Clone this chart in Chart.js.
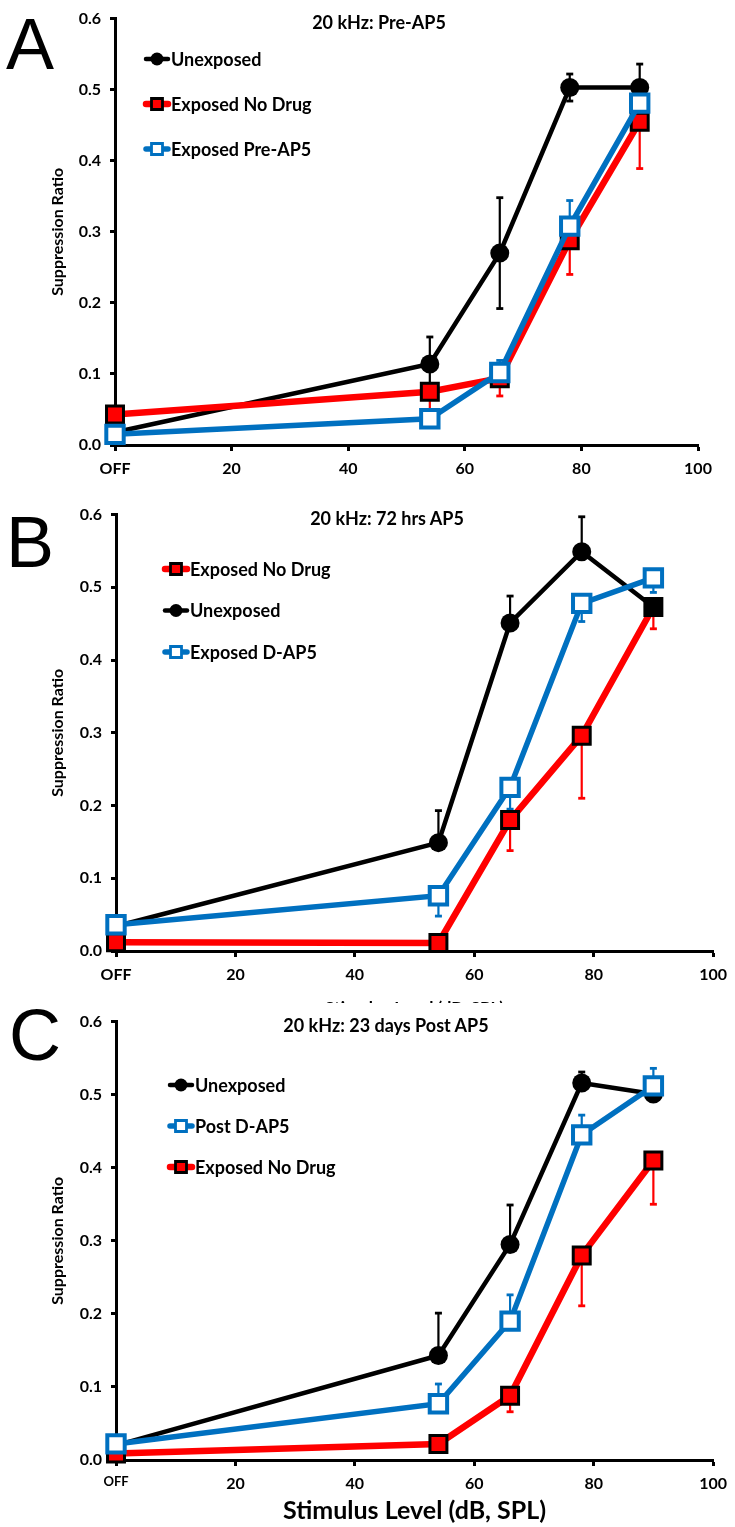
<!DOCTYPE html>
<html>
<head>
<meta charset="utf-8">
<script src="https://cdn.jsdelivr.net/npm/chart.js@4.4.1/dist/chart.umd.min.js"></script>
<style>
  body { margin: 0; width: 735px; height: 1527px; position: relative; background: #fff; overflow: hidden; font-family: Lato, sans-serif; }
  .panel { position: absolute; left: 0; width: 735px; background: #fff; }
  .letter { position: absolute; font-family: 'Liberation Sans', Arial, sans-serif; font-size: 72px; line-height: 1; color: #000; z-index: 5; }
  .title { position: absolute; transform: translate(-50%, -50%); font-weight: bold; font-size: 18px; white-space: nowrap; color: #000; z-index: 5; }
</style>
</head>
<body>
<div class="panel" id="pA" style="top:0;height:495px;z-index:1"><canvas id="chartA"></canvas></div>
<div class="panel" id="pB" style="top:496px;height:530px;z-index:2"><canvas id="chartB"></canvas></div>
<div class="panel" id="pC" style="top:1003px;height:524px;z-index:3"><canvas id="chartC"></canvas></div>

<div class="letter" style="left:6px;top:8px">A</div>
<div class="letter" style="left:6px;top:506px">B</div>
<div class="letter" style="left:9px;top:999px">C</div>
<div class="title" style="left:379px;top:22px">20 kHz: Pre-AP5</div>
<div class="title" style="left:387px;top:518px">20 kHz: 72 hrs AP5</div>
<div class="title" style="left:386px;top:1025px">20 kHz: 23 days Post AP5</div>

<script>
// stimulus levels (dB SPL), 0 = OFF
const levels = [0, 54, 66, 78, 90];
const xTickLabels = ['OFF', '20', '40', '60', '80', '100'];
const yTickLabels = ['0.0', '0.1', '0.2', '0.3', '0.4', '0.5', '0.6'];

// A: 20 kHz Pre-AP5
const aUnexposed = [0.018, 0.114, 0.270, 0.503, 0.503];
const aUnexposedErr = [0, 0.038, 0.078, 0.019, 0.033];
const aNoDrug = [0.043, 0.075, 0.094, 0.288, 0.455];
const aNoDrugErr = [0, 0.025, 0.025, 0.048, 0.066];
const aPreAP5 = [0.015, 0.037, 0.102, 0.308, 0.481];
const aPreAP5Err = [0, 0, 0.017, 0.036, 0];

// B: 20 kHz 72 hrs AP5
const bUnexposed = [0.034, 0.149, 0.451, 0.549, 0.473];
const bUnexposedErr = [0, 0.044, 0.037, 0.048, 0];
const bNoDrug = [0.012, 0.011, 0.180, 0.296, 0.473];
const bNoDrugErr = [0, 0, 0.042, 0.086, 0.030];
const bDAP5 = [0.036, 0.076, 0.225, 0.478, 0.513];
const bDAP5Err = [0, 0.028, 0.030, 0.025, 0.020];

// C: 20 kHz 23 days Post AP5
const cUnexposed = [0.020, 0.143, 0.295, 0.516, 0.501];
const cUnexposedErr = [0, 0.058, 0.054, 0.015, 0];
const cNoDrug = [0.009, 0.022, 0.088, 0.280, 0.410];
const cNoDrugErr = [0, 0, 0.022, 0.069, 0.060];
const cPostDAP5 = [0.022, 0.077, 0.190, 0.445, 0.512];
const cPostDAP5Err = [0, 0.027, 0.036, 0.027, 0.024];

const BLACK = '#000000';
const RED = '#ff0000';
const BLUE = '#0070c0';
const FONT = 'Lato, "Open Sans", sans-serif';

function pts(vals) {
  return vals.map((v, i) => ({ x: levels[i], y: v }));
}

function blackSet(label, vals, err, dir) {
  return {
    label: label, data: pts(vals), err: err, errDir: dir,
    borderColor: BLACK, backgroundColor: BLACK, borderWidth: 4.5,
    pointStyle: 'circle', pointRadius: 9.5, pointBorderWidth: 0,
    pointBackgroundColor: BLACK, clip: false
  };
}
function redSet(label, vals, err, fills) {
  return {
    label: label, data: pts(vals), err: err, errDir: 'down',
    borderColor: RED, backgroundColor: RED, borderWidth: 6.5,
    pointStyle: 'rect', pointRadius: 12, pointBorderWidth: 3,
    pointBorderColor: BLACK, pointBackgroundColor: fills || RED, clip: false
  };
}
function blueSet(label, vals, err, dir) {
  return {
    label: label, data: pts(vals), err: err, errDir: dir,
    borderColor: BLUE, backgroundColor: '#fff', borderWidth: 5.5,
    pointStyle: 'rect', pointRadius: 12.3, pointBorderWidth: 4,
    pointBorderColor: BLUE, pointBackgroundColor: '#fff', clip: false
  };
}

// error bars under the markers
const errorBars = {
  id: 'errorBars',
  beforeDatasetsDraw(chart) {
    const ctx = chart.ctx;
    const xs = chart.scales.x, ys = chart.scales.y;
    chart.data.datasets.slice().reverse().forEach(ds => {
      ctx.save();
      ctx.strokeStyle = ds.borderColor;
      ds.data.forEach((p, i) => {
        const e = ds.err[i];
        if (!e) return;
        const px = xs.getPixelForValue(p.x);
        const pc = ys.getPixelForValue(p.y);
        const ends = [];
        if (ds.errDir !== 'down') ends.push(p.y + e);
        if (ds.errDir !== 'up') ends.push(p.y - e);
        ends.forEach(v => {
          const py = ys.getPixelForValue(v);
          ctx.lineWidth = 2.2;
          ctx.beginPath();
          ctx.moveTo(px, pc); ctx.lineTo(px, py);
          ctx.stroke();
          ctx.lineWidth = 2.8;
          ctx.beginPath();
          ctx.moveTo(px - 3.5, py); ctx.lineTo(px + 3.5, py);
          ctx.stroke();
        });
      });
      ctx.restore();
    });
  }
};

// legend inside the plot: short line with a small marker
const inlineLegend = {
  id: 'inlineLegend',
  afterDraw(chart, args, opts) {
    const ctx = chart.ctx;
    opts.order.forEach((di, k) => {
      const ds = chart.data.datasets[di];
      const y = opts.y + k * opts.gap;
      const x0 = opts.x, x1 = opts.x + 26, cx = (x0 + x1) / 2;
      ctx.save();
      ctx.strokeStyle = ds.borderColor;
      ctx.lineWidth = ds.borderWidth;
      ctx.lineCap = 'round';
      ctx.beginPath(); ctx.moveTo(x0 + 2, y); ctx.lineTo(x1 - 2, y); ctx.stroke();
      if (ds.pointStyle === 'circle') {
        ctx.fillStyle = BLACK;
        ctx.beginPath(); ctx.arc(cx, y, 6.5, 0, Math.PI * 2); ctx.fill();
      } else {
        ctx.fillStyle = ds.pointBackgroundColor === '#fff' ? '#fff' : RED;
        ctx.strokeStyle = ds.pointBorderColor;
        ctx.lineWidth = 2.8;
        ctx.beginPath(); ctx.rect(cx - 5.5, y - 5.5, 11, 11); ctx.fill(); ctx.stroke();
      }
      ctx.fillStyle = '#000';
      ctx.font = 'bold 18px ' + FONT;
      ctx.textBaseline = 'middle';
      ctx.textAlign = 'left';
      ctx.fillText(ds.label, x1 + 1, y + 1);
      ctx.restore();
    });
  }
};

function makeChart(id, datasets, o) {
  return new Chart(document.getElementById(id), {
    type: 'line',
    data: { datasets: datasets },
    plugins: [errorBars, inlineLegend],
    options: {
      responsive: true,
      maintainAspectRatio: false,
      animation: false,
      events: [],
      layout: { padding: { left: 0, right: o.right, top: o.top, bottom: 0 } },
      elements: { line: { tension: 0 } },
      plugins: {
        legend: { display: false },
        tooltip: { enabled: false },
        inlineLegend: o.legend
      },
      scales: {
        x: {
          type: 'linear', min: 0, max: 100,
          afterFit: s => { s.height = o.xHeight; },
          border: { display: true, color: BLACK, width: 3 },
          grid: { drawOnChartArea: false, drawTicks: true, tickLength: 6, tickWidth: 3, tickColor: BLACK },
          ticks: {
            stepSize: 20, padding: 8, color: BLACK, maxRotation: 0,
            font: c => ({ family: FONT, weight: 'bold', size: (o.smallOff && c.tick && c.tick.value === 0) ? 13 : 16 }),
            callback: (v, i) => xTickLabels[i]
          },
          title: o.xTitle
        },
        y: {
          min: 0, max: 0.6,
          afterFit: s => { s.width = o.yWidth; },
          border: { display: true, color: BLACK, width: 3 },
          grid: { drawOnChartArea: false, drawTicks: true, tickLength: 5, tickWidth: 3, tickColor: BLACK },
          ticks: {
            stepSize: 0.1, padding: 9, color: BLACK,
            font: { family: FONT, weight: 'bold', size: 16 },
            callback: (v, i) => yTickLabels[i]
          },
          title: {
            display: true, text: 'Suppression Ratio', color: BLACK,
            font: { family: FONT, weight: 'bold', size: 16, lineHeight: 1.2 },
            padding: { top: 48, bottom: 0 }
          }
        }
      }
    }
  });
}

// dataset 0 is drawn on top, so blue first and black last
makeChart('chartA', [
  blueSet('Exposed Pre-AP5', aPreAP5, aPreAP5Err, 'up'),
  redSet('Exposed No Drug', aNoDrug, aNoDrugErr),
  blackSet('Unexposed', aUnexposed, aUnexposedErr, 'both')
], {
  right: 37, top: 12, xHeight: 50, yWidth: 115,
  xTitle: { display: false },
  legend: { x: 144, y: 59, gap: 45, order: [2, 1, 0] }
});

// the x title of B is mostly covered by panel C, as in the source figure
makeChart('chartB', [
  blueSet('Exposed D-AP5', bDAP5, bDAP5Err, 'down'),
  redSet('Exposed No Drug', bNoDrug, bNoDrugErr, [RED, RED, RED, RED, BLACK]),
  blackSet('Unexposed', bUnexposed, bUnexposedErr, 'up')
], {
  right: 18, top: 12, xHeight: 75, yWidth: 116,
  xTitle: {
    display: true, text: 'Stimulus Level (dB, SPL)', color: BLACK,
    font: { family: FONT, weight: 'bold', size: 17, lineHeight: 1.2 },
    padding: { top: 0, bottom: 7 }
  },
  legend: { x: 163, y: 73, gap: 41.5, order: [1, 2, 0] }
});

makeChart('chartC', [
  blueSet('Post D-AP5', cPostDAP5, cPostDAP5Err, 'up'),
  redSet('Exposed No Drug', cNoDrug, cNoDrugErr),
  blackSet('Unexposed', cUnexposed, cUnexposedErr, 'up')
], {
  right: 18, top: 13, xHeight: 67, yWidth: 116, smallOff: true,
  xTitle: {
    display: true, text: 'Stimulus Level (dB, SPL)', color: BLACK,
    font: { family: FONT, weight: 'bold', size: 25, lineHeight: 1.2 },
    padding: { top: 0, bottom: 1 }
  },
  legend: { x: 168, y: 82, gap: 41, order: [2, 0, 1] }
});
</script>
</body>
</html>
